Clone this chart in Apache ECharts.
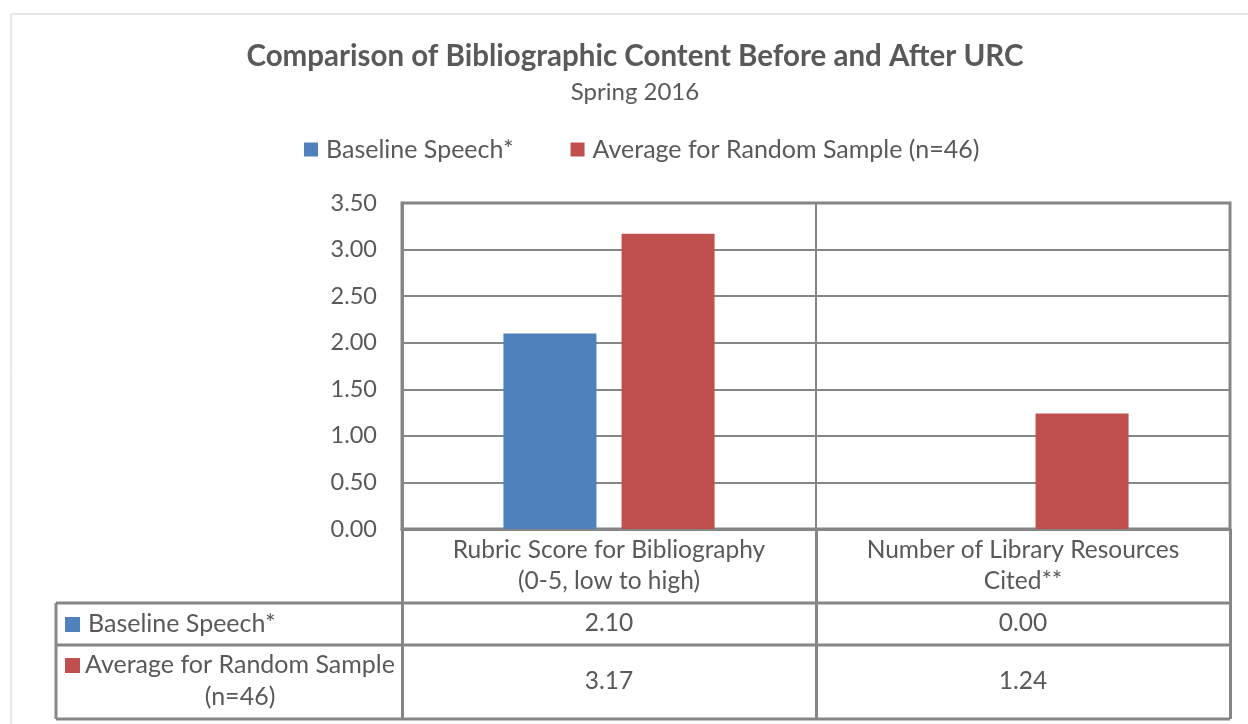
<!DOCTYPE html>
<html>
<head>
<meta charset="utf-8">
<script src="https://cdn.jsdelivr.net/npm/echarts@6/dist/echarts.min.js"></script>
<style>
  html, body { margin: 0; padding: 0; background: #fff; }
  #chart { width: 1248px; height: 724px; }
</style>
</head>
<body>
<div id="chart"></div>
<script>
const categories = ['Rubric Score for Bibliography\n(0-5, low to high)', 'Number of Library Resources\nCited**'];
const seriesNames = ['Baseline Speech*', 'Average for Random Sample (n=46)'];
const rowLabels = ['Baseline Speech*', 'Average for Random Sample\n(n=46)'];
const baseline = [2.10, 0.00];
const randomAvg = [3.17, 1.24];
const colors = ['#4F81BD', '#C0504D'];

const textColor = '#595959';
const lineColor = '#868686';
const font = 'Lato, "Open Sans", sans-serif';

const myChart = echarts.init(document.getElementById('chart'));

// table below the plot (rows line up under the x axis labels)
const tableLeft = 56, tableRight = 1230;
const rowTops = [603, 645, 719];

const graphics = [
  // outer chart frame
  {type: 'rect', shape: {x: 11, y: 14, width: 1400, height: 900},
    style: {fill: 'none', stroke: '#d0d0d0', lineWidth: 1}, silent: true},
  {type: 'line', shape: {x1: tableLeft, y1: rowTops[0], x2: tableLeft, y2: rowTops[2]},
    style: {stroke: lineColor, lineWidth: 3}}
];
rowTops.forEach((y) => {
  graphics.push({type: 'line', shape: {x1: tableLeft, y1: y, x2: tableRight, y2: y},
    style: {stroke: lineColor, lineWidth: 3}});
});
// row labels with colour keys
graphics.push(
  {type: 'rect', shape: {x: 65, y: 617, width: 15, height: 15}, style: {fill: colors[0]}},
  {type: 'text', x: 88, y: 624, style: {text: rowLabels[0], fill: textColor, font: '25px ' + font, verticalAlign: 'middle'}},
  {type: 'rect', shape: {x: 65, y: 658, width: 15, height: 15}, style: {fill: colors[1]}},
  {type: 'text', x: 240, y: 649, style: {text: rowLabels[1], fill: textColor, font: '25px ' + font,
    align: 'center', verticalAlign: 'top', lineHeight: 32}}
);

const option = {
  backgroundColor: '#fff',
  title: {
    text: 'Comparison of Bibliographic Content Before and After URC',
    subtext: 'Spring 2016',
    left: 630,
    textAlign: 'center',
    top: 36,
    itemGap: 9,
    textStyle: {color: textColor, fontFamily: font, fontWeight: 'bold', fontSize: 29.5},
    subtextStyle: {color: textColor, fontFamily: font, fontSize: 24}
  },
  legend: {
    left: 304,
    top: 137,
    padding: 0,
    itemWidth: 14,
    itemHeight: 14,
    itemGap: 57,
    icon: 'rect',
    data: seriesNames,
    textStyle: {color: textColor, fontFamily: font, fontSize: 25, padding: [0, 0, 0, 3]}
  },
  grid: {
    left: 402, right: 18, top: 203, bottom: 195,
    show: true, borderColor: lineColor, borderWidth: 3
  },
  xAxis: {
    type: 'category',
    data: categories,
    boundaryGap: true,
    axisLine: {show: true, lineStyle: {color: lineColor, width: 3}},
    axisTick: {show: true, length: 190, interval: 0, lineStyle: {color: lineColor, width: 3}},
    splitLine: {show: true, interval: 0, lineStyle: {color: lineColor, width: 2}},
    axisLabel: {
      interval: 0,
      margin: 6,
      formatter: (value, idx) => {
        const parts = value.split('\n');
        return '{h|' + parts[0] + '}\n{h|' + parts[1] + '}\n{v1|' +
          baseline[idx].toFixed(2) + '}\n{v2|' + randomAvg[idx].toFixed(2) + '}';
      },
      rich: {
        h: {color: textColor, fontFamily: font, fontSize: 24.5, lineHeight: 31, align: 'center'},
        v1: {color: textColor, fontFamily: font, fontSize: 24.5, lineHeight: 53, align: 'center'},
        v2: {color: textColor, fontFamily: font, fontSize: 24.5, lineHeight: 63, align: 'center'}
      }
    }
  },
  yAxis: {
    type: 'value',
    min: 0,
    max: 3.5,
    interval: 0.5,
    axisLine: {show: true, lineStyle: {color: lineColor, width: 3}},
    axisTick: {show: false},
    splitLine: {show: true, lineStyle: {color: lineColor, width: 2}},
    axisLabel: {
      margin: 25,
      color: textColor, fontFamily: font, fontSize: 23.5,
      formatter: (v) => v.toFixed(2)
    }
  },
  series: [
    {
      name: seriesNames[0],
      type: 'bar',
      data: baseline,
      barCategoryGap: '49%',
      barGap: '27%',
      itemStyle: {color: colors[0]}
    },
    {
      name: seriesNames[1],
      type: 'bar',
      data: randomAvg,
      barCategoryGap: '49%',
      barGap: '27%',
      itemStyle: {color: colors[1]}
    }
  ],
  graphic: graphics
};

myChart.setOption(option);
</script>
</body>
</html>
